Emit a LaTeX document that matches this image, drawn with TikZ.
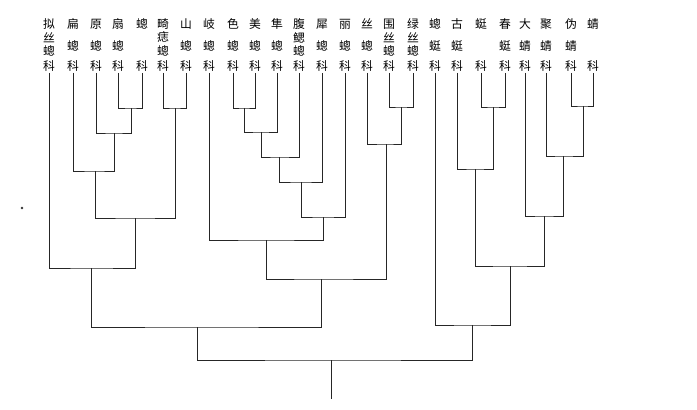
\documentclass[tikz,border=0pt]{standalone}
\usepackage{fontspec}
\newfontfamily\cjk{Noto Sans CJK SC}
\begin{document}
\begin{tikzpicture}[x=1pt,y=-1pt,
  lbl/.style={font=\cjk\fontsize{11.8}{11.8}\selectfont, inner sep=0pt, outer sep=1.5pt, anchor=center},
  br/.style={line width=0.7pt, draw=black!85}]
\useasboundingbox (0,0) rectangle (697,410);
% family labels: top character
\foreach \i/\x/\c in {1/49/拟,2/73/扁,3/96/原,4/118/扇,5/142/蟌,6/163/畸,7/186/山,8/209/岐,9/233/色,10/255/美,11/277/隼,12/299/腹,13/322/犀,14/345/丽,15/367/丝,16/389/围,17/413/绿,18/435/蟌,19/457/古,20/481/蜓,21/505/春,22/525/大,23/546/聚,24/571/伪,25/593/蜻}
  \node[lbl] (t\i) at (\x,24) {\c};
% second character of two-character names
\foreach \i/\x/\c in {2/73/蟌,3/96/蟌,4/118/蟌,7/186/蟌,8/209/蟌,9/233/蟌,10/255/蟌,11/277/蟌,13/322/蟌,14/345/蟌,15/367/蟌,18/435/蜓,19/457/蜓,21/505/蜓,22/525/蜻,23/546/蜻,24/571/蜻}
  \node[lbl] (m\i) at (\x,46) {\c};
% three-character names
\foreach \i/\x/\c in {1/49/丝,6/163/痣,12/299/鳃,16/389/丝,17/413/丝}
  \node[lbl] (p\i) at (\x,37.5) {\c};
\foreach \i/\x in {1/49,6/163,12/299,16/389,17/413}
  \node[lbl] (q\i) at (\x,51) {蟌};
% 科 row
\foreach \i/\x in {1/49,2/73,3/96,4/118,5/142,6/163,7/186,8/209,9/233,10/255,11/277,12/299,13/322,14/345,15/367,16/389,17/413,18/435,19/457,20/481,21/505,22/525,23/546,24/571,25/593}
  \node[lbl] (k\i) at (\x,66) {科};
% internal nodes
\coordinate (a1) at (131,108);
\coordinate (a2) at (114,133);
\coordinate (a3) at (95,171);
\coordinate (a4) at (175,108);
\coordinate (a5) at (135,218);
\coordinate (a6) at (91,268);
\coordinate (b1) at (244,108);
\coordinate (b2) at (261,132);
\coordinate (b3) at (279,157);
\coordinate (b4) at (301,182);
\coordinate (b5) at (323,217);
\coordinate (b6) at (266,240);
\coordinate (c1) at (401,107);
\coordinate (c2) at (386,144);
\coordinate (b7) at (321,279);
\coordinate (a7) at (197,327);
\coordinate (d1) at (493,107);
\coordinate (d2) at (475,169);
\coordinate (e1) at (583,106);
\coordinate (e2) at (563,156);
\coordinate (e3) at (544,216);
\coordinate (d3) at (510,266);
\coordinate (d4) at (472,325);
\coordinate (r) at (331,360);
\coordinate (rb) at (331,399);
% branches
\draw[br] (k4.south) |- (a1) -| (k5.south);
\draw[br] (k3.south) |- (a2) -| (a1);
\draw[br] (k2.south) |- (a3) -| (a2);
\draw[br] (k6.south) |- (a4) -| (k7.south);
\draw[br] (a3) |- (a5) -| (a4);
\draw[br] (k1.south) |- (a6) -| (a5);
\draw[br] (k9.south) |- (b1) -| (k10.south);
\draw[br] (b1) |- (b2) -| (k11.south);
\draw[br] (b2) |- (b3) -| (k12.south);
\draw[br] (b3) |- (b4) -| (k13.south);
\draw[br] (b4) |- (b5) -| (k14.south);
\draw[br] (k8.south) |- (b6) -| (b5);
\draw[br] (k16.south) |- (c1) -| (k17.south);
\draw[br] (k15.south) |- (c2) -| (c1);
\draw[br] (b6) |- (b7) -| (c2);
\draw[br] (a6) |- (a7) -| (b7);
\draw[br] (k20.south) |- (d1) -| (k21.south);
\draw[br] (k19.south) |- (d2) -| (d1);
\draw[br] (k24.south) |- (e1) -| (k25.south);
\draw[br] (k23.south) |- (e2) -| (e1);
\draw[br] (k22.south) |- (e3) -| (e2);
\draw[br] (d2) |- (d3) -| (e3);
\draw[br] (k18.south) |- (d4) -| (d3);
\draw[br] (a7) |- (r) -| (d4);
\draw[br] (r) -- (rb);
% scan speck
\fill[black!80] (22,208) circle (1.4);
\end{tikzpicture}
\end{document}
